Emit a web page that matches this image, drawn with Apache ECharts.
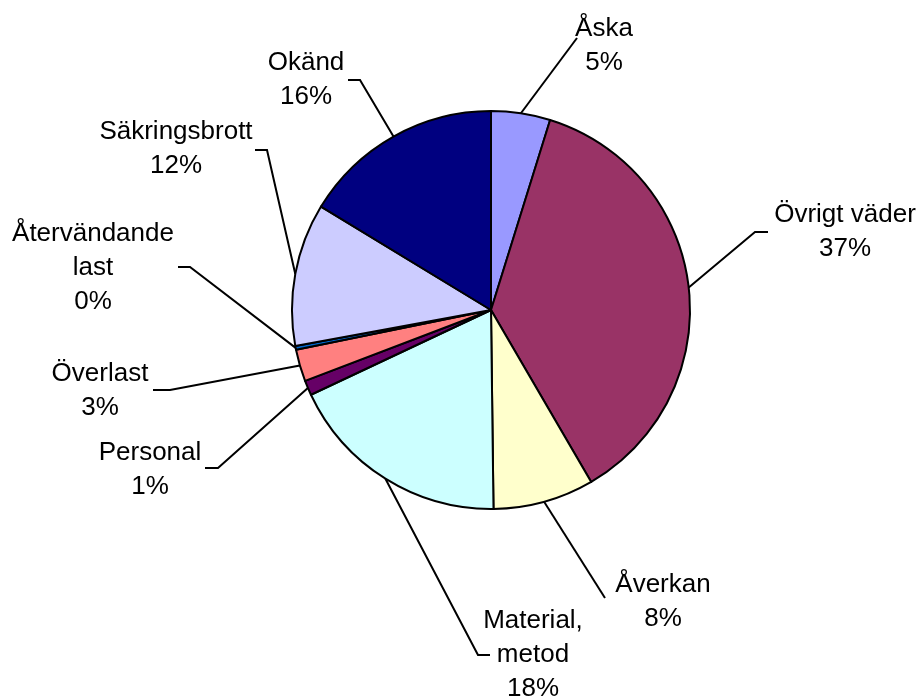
<!DOCTYPE html>
<html>
<head>
<meta charset="utf-8">
<script src="https://cdn.jsdelivr.net/npm/echarts@6/dist/echarts.min.js"></script>
<style>
  html, body { margin: 0; padding: 0; background: #fff; }
  #chart { width: 918px; height: 698px; }
</style>
</head>
<body>
<div id="chart"></div>
<script>
// categories clockwise from 12 o'clock
var names = ['Åska', 'Övrigt väder', 'Åverkan', 'Material,\nmetod', 'Personal',
             'Överlast', 'Återvändande\nlast', 'Säkringsbrott', 'Okänd'];
// shares in percent
var shares = [4.8, 36.8, 8.2, 18.2, 1.2, 2.6, 0.3, 11.6, 16.3];
var colors = ['#9999FF', '#993366', '#FFFFCC', '#CCFFFF', '#660066',
              '#FF8080', '#0066CC', '#CCCCFF', '#000080'];

// label placement (centre of text block) and leader line tails
var labelPos = [[604, 46], [845, 232], [663, 602], [533, 655], [150, 470],
                [100, 391], [93, 268], [176, 149], [306, 80]];
var lineTail = [
    [[577, 38]],
    [[755, 232], [768, 232]],
    [[605, 598]],
    [[478, 655], [490, 655]],
    [[218, 468], [205, 468]],
    [[170, 390], [153, 390]],
    [[190, 267], [178, 267]],
    [[267, 150], [255, 150]],
    [[360, 80], [348, 80]]
];

var chart = echarts.init(document.getElementById('chart'));

var option = {
    animation: false,
    color: colors,
    series: [{
        type: 'pie',
        center: [491, 310],
        radius: 199,
        startAngle: 90,
        clockwise: true,
        avoidLabelOverlap: false,
        emphasis: { scale: false },
        itemStyle: {
            borderColor: '#000',
            borderWidth: 2
        },
        label: {
            show: true,
            position: 'outside',
            color: '#000',
            fontFamily: 'Liberation Sans, Arial, sans-serif',
            fontSize: 26,
            lineHeight: 34,
            align: 'center',
            formatter: function (p) {
                return p.name + '\n' + Math.round(p.percent) + '%';
            }
        },
        labelLine: {
            show: true,
            length: 20,
            length2: 10,
            lineStyle: { color: '#000', width: 2 }
        },
        labelLayout: function (p) {
            var i = p.dataIndex;
            var pts = [];
            if (p.labelLinePoints && p.labelLinePoints[0]) {
                pts.push(p.labelLinePoints[0]);
            }
            pts = pts.concat(lineTail[i]);
            return {
                x: labelPos[i][0],
                y: labelPos[i][1],
                align: 'center',
                verticalAlign: 'middle',
                labelLinePoints: pts
            };
        },
        data: names.map(function (n, i) {
            return { name: n, value: shares[i] };
        })
    }]
};

chart.setOption(option);
</script>
</body>
</html>
